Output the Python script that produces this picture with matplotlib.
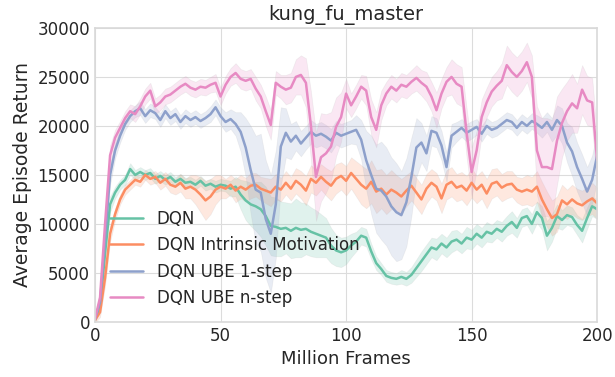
import matplotlib
matplotlib.use("Agg")
import matplotlib.pyplot as plt
import numpy as np
import seaborn as sns

# x axis: million frames, one reading every 2M frames
frames = list(range(0, 201, 2))

# average episode return, in thousands
dqn = [0.3, 1.5, 7.0, 12.0, 13.2, 14.0, 14.5, 15.6, 15.0, 15.3,
       15.0, 15.2, 14.6, 14.9, 14.5, 14.8, 14.3, 14.6, 14.2, 14.3,
       14.0, 14.4, 13.9, 14.1, 13.8, 14.0, 13.9, 13.6, 13.8, 13.0,
       12.4, 12.0, 11.8, 11.5, 10.8, 9.8, 9.7, 9.5, 9.6, 9.3,
       9.6, 9.4, 9.5, 9.2, 9.0, 8.8, 8.6, 7.8, 7.3, 7.1,
       7.3, 7.8, 8.2, 8.8, 8.6, 7.2, 6.0, 5.4, 4.7, 4.5,
       4.4, 4.6, 4.4, 4.8, 5.5, 6.2, 6.9, 7.6, 7.4, 8.0,
       7.6, 8.2, 8.4, 8.0, 8.6, 8.4, 9.0, 8.6, 9.2, 9.0,
       9.5, 9.2, 9.8, 10.2, 9.6, 10.6, 10.8, 10.0, 11.2, 10.6,
       8.8, 9.6, 10.8, 10.4, 10.9, 10.7, 9.9, 9.3, 10.6, 11.8,
       11.5]
dqn_im = [0.2, 1.0, 4.5, 9.0, 11.0, 12.5, 13.5, 14.0, 14.5, 14.3,
          15.0, 14.6, 14.8, 14.2, 14.6, 14.0, 13.8, 14.2, 13.6, 13.8,
          13.5, 13.0, 12.4, 12.8, 13.5, 13.8, 13.6, 14.0, 13.4, 13.8,
          13.5, 13.9, 14.0, 13.6, 13.4, 13.2, 13.8, 13.5, 14.2, 13.6,
          14.4, 14.0, 13.4, 14.6, 14.2, 14.8, 14.3, 13.9, 14.6, 14.9,
          14.4, 15.2, 14.6, 14.0, 13.6, 14.3, 13.3, 13.6, 13.0, 13.5,
          13.2, 12.8, 13.4, 13.9, 13.2, 12.5, 13.6, 14.2, 13.8, 12.6,
          14.0, 14.3, 13.7, 13.9, 13.4, 14.2, 13.5, 14.0, 13.1, 14.1,
          14.3, 13.7, 14.0, 14.1, 13.5, 13.3, 13.5, 13.3, 13.8, 12.5,
          11.5, 10.6, 11.0, 12.4, 12.0, 12.5, 12.1, 11.9, 12.3, 12.6,
          12.1]
ube_1 = [0.3, 2.0, 8.5, 15.0, 17.5, 19.0, 20.2, 21.0, 21.5, 21.8,
         21.0, 21.6, 21.3, 20.6, 21.5, 20.8, 21.2, 20.4, 21.0, 20.6,
         20.9, 20.5, 20.8, 21.2, 21.9, 21.0, 20.4, 20.7, 20.2, 19.4,
         17.8, 15.5, 13.5, 13.2, 10.5, 9.0, 12.0, 17.9, 19.3, 18.4,
         19.0, 18.2, 18.8, 19.4, 19.0, 19.2, 18.9, 18.5, 19.3, 19.0,
         19.2, 19.4, 19.6, 18.6, 16.5, 15.0, 13.6, 13.4, 12.8, 11.8,
         11.2, 10.9, 12.2, 14.8, 17.8, 18.3, 17.2, 19.5, 19.3, 18.0,
         15.8, 19.0, 19.4, 19.8, 19.3, 19.6, 19.9, 19.2, 20.0, 19.6,
         19.8, 20.2, 20.6, 20.4, 19.8, 20.4, 20.0, 20.5, 20.2, 19.8,
         20.4, 19.6, 20.6, 20.0, 18.3, 17.4, 15.8, 14.6, 13.3, 14.5,
         17.0]
ube_n = [0.3, 2.5, 10.0, 17.0, 18.8, 19.8, 20.8, 21.5, 21.2, 22.0,
         23.0, 23.6, 22.0, 22.4, 23.0, 23.2, 23.6, 24.0, 24.3, 23.9,
         23.7, 24.0, 23.9, 24.2, 24.4, 23.0, 24.2, 25.0, 25.4, 24.8,
         24.6, 24.8, 23.8, 23.0, 21.5, 20.1, 24.4, 24.0, 23.7, 23.9,
         25.0, 25.2, 24.4, 20.0, 14.8, 16.8, 17.2, 17.9, 19.9, 20.9,
         23.3, 22.1, 23.0, 24.0, 23.6, 20.9, 19.6, 22.1, 23.3, 24.0,
         23.6, 24.2, 24.0, 24.5, 24.9, 24.4, 24.0, 23.0, 21.6, 23.3,
         24.5, 25.0, 24.3, 24.0, 19.3, 15.3, 17.5, 20.9, 22.4, 23.5,
         24.1, 24.6, 26.2, 25.5, 25.0, 25.6, 26.5, 25.0, 17.5, 15.8,
         15.8, 15.6, 18.5, 20.3, 21.5, 22.3, 21.8, 23.7, 22.6, 22.4,
         16.5]

# half width of the shaded spread around each line, in thousands
dqn_sd = [0.3, 0.5, 0.8, 0.8, 0.6, 0.5, 0.5, 0.6, 0.5, 0.5,
          0.5, 0.5, 0.5, 0.5, 0.5, 0.5, 0.5, 0.5, 0.5, 0.5,
          0.5, 0.5, 0.5, 0.5, 0.6, 0.6, 0.6, 0.8, 1.0, 1.5,
          2.0, 2.2, 2.5, 2.8, 3.0, 3.0, 3.0, 2.8, 2.6, 2.8,
          3.0, 2.8, 2.6, 2.5, 2.4, 2.2, 2.0, 1.8, 1.6, 1.5,
          1.4, 1.2, 1.0, 0.9, 0.9, 0.8, 0.7, 0.6, 0.6, 0.6,
          0.6, 0.7, 0.7, 0.8, 0.9, 1.0, 1.0, 1.0, 1.1, 1.0,
          1.0, 1.1, 1.0, 1.0, 1.1, 1.0, 1.0, 1.0, 1.0, 0.9,
          0.9, 1.0, 1.0, 1.1, 1.0, 0.9, 0.9, 1.0, 1.1, 1.2,
          1.5, 1.4, 1.2, 1.0, 1.0, 1.0, 1.0, 1.2, 1.1, 1.0,
          1.0]
dqn_im_sd = [0.3, 0.5, 0.8, 0.8, 0.6, 0.5, 0.5, 0.5, 0.5, 0.5,
             0.5, 0.6, 0.6, 0.7, 0.7, 0.8, 0.8, 0.9, 1.0, 1.2,
             1.5, 1.8, 2.0, 1.8, 1.5, 1.2, 1.0, 1.0, 1.2, 1.2,
             1.2, 1.3, 1.2, 1.2, 1.3, 1.4, 1.3, 1.2, 1.2, 1.2,
             1.3, 1.4, 1.5, 1.4, 1.3, 1.3, 1.4, 1.5, 1.5, 1.4,
             1.5, 1.6, 1.8, 2.0, 2.0, 2.2, 2.2, 2.0, 2.0, 2.0,
             1.8, 1.8, 1.6, 1.5, 1.5, 1.5, 1.5, 1.4, 1.4, 1.5,
             1.5, 1.5, 1.4, 1.4, 1.5, 1.5, 1.4, 1.4, 1.5, 1.5,
             1.4, 1.4, 1.4, 1.3, 1.3, 1.4, 1.5, 1.5, 1.6, 1.8,
             1.8, 1.8, 1.8, 1.6, 1.5, 1.5, 1.5, 1.5, 1.5, 1.6,
             1.6]
ube_1_sd = [0.3, 0.6, 1.0, 1.0, 0.8, 0.7, 0.6, 0.6, 0.6, 0.7,
            0.7, 0.7, 0.6, 0.7, 0.7, 0.7, 0.7, 0.7, 0.7, 0.7,
            0.7, 0.7, 0.7, 0.8, 0.8, 0.9, 1.0, 1.0, 1.2, 2.0,
            3.0, 4.5, 5.5, 6.0, 6.0, 6.0, 5.5, 4.0, 2.5, 1.8,
            1.5, 1.3, 1.2, 1.2, 1.2, 1.2, 1.2, 1.2, 1.2, 1.2,
            1.2, 1.2, 1.5, 2.0, 3.0, 4.0, 4.5, 5.0, 5.0, 5.0,
            5.0, 4.5, 4.5, 4.0, 3.0, 2.0, 1.8, 1.5, 1.5, 1.5,
            1.5, 1.2, 1.0, 0.9, 0.9, 0.9, 0.8, 0.8, 0.8, 0.8,
            0.8, 0.8, 0.8, 0.8, 0.8, 0.8, 0.8, 0.8, 0.9, 1.0,
            1.0, 1.2, 1.5, 1.8, 2.0, 2.5, 2.5, 2.5, 2.5, 2.5,
            2.5]
ube_n_sd = [0.3, 0.6, 1.0, 1.0, 0.8, 0.7, 0.7, 0.7, 0.8, 0.8,
            0.8, 0.8, 0.8, 0.8, 0.8, 0.8, 0.8, 0.8, 0.8, 0.8,
            0.8, 0.8, 0.8, 0.8, 0.9, 0.9, 0.9, 0.9, 1.0, 1.0,
            1.0, 1.0, 1.2, 1.2, 1.5, 1.5, 1.2, 1.2, 1.5, 1.5,
            1.8, 2.0, 2.5, 3.5, 4.5, 4.5, 4.0, 3.5, 3.0, 2.5,
            1.5, 1.2, 1.2, 1.2, 1.5, 1.8, 1.8, 1.5, 1.2, 1.2,
            1.2, 1.2, 1.2, 1.2, 1.3, 1.3, 1.5, 1.5, 1.8, 1.5,
            1.5, 1.8, 2.0, 2.0, 2.5, 2.5, 2.0, 1.8, 1.5, 1.5,
            1.5, 1.8, 2.0, 2.0, 2.0, 2.0, 2.0, 2.2, 4.5, 5.0,
            5.0, 5.0, 4.5, 3.5, 3.0, 3.0, 2.5, 2.5, 2.5, 2.5,
            2.5]

labels = ["DQN", "DQN Intrinsic Motivation", "DQN UBE 1-step", "DQN UBE n-step"]

sns.set_style("whitegrid", {"axes.edgecolor": "#d9d9d9", "grid.color": "#dcdcdc"})
plt.rcParams["font.family"] = ["DejaVu Sans"]

colors = sns.color_palette("Set2", 4)

fig = plt.figure(figsize=(6.15, 3.77), dpi=100)
ax = fig.add_axes([0.1545, 0.146, 0.8165, 0.78])

x = np.array(frames)
series = [(dqn, dqn_sd), (dqn_im, dqn_im_sd), (ube_1, ube_1_sd), (ube_n, ube_n_sd)]
for (mean, sd), color, label in zip(series, colors, labels):
    m = np.array(mean) * 1000
    s = np.array(sd) * 1000
    ax.fill_between(x, m - s, m + s, color=color, alpha=0.2,
                    edgecolor="#bbbbbb", linewidth=0.5)
    ax.plot(x, m, color=color, linewidth=1.8, label=label)

ax.set_xlim(0, 200)
ax.set_ylim(0, 30000)
ax.set_xticks([0, 50, 100, 150, 200])
ax.set_yticks(range(0, 30001, 5000))
ax.tick_params(labelsize=12, colors="#262626", length=0)
ax.set_xlabel("Million Frames", fontsize=13, color="#262626")
ax.set_ylabel("Average Episode Return", fontsize=13.5, color="#262626")
ax.set_title("kung_fu_master", fontsize=14, color="#262626")
for sp in ax.spines.values():
    sp.set_linewidth(1.2)

ax.legend(loc="lower left", fontsize=12, frameon=False)

fig.savefig("out.png", dpi=100)
plt.close(fig)
